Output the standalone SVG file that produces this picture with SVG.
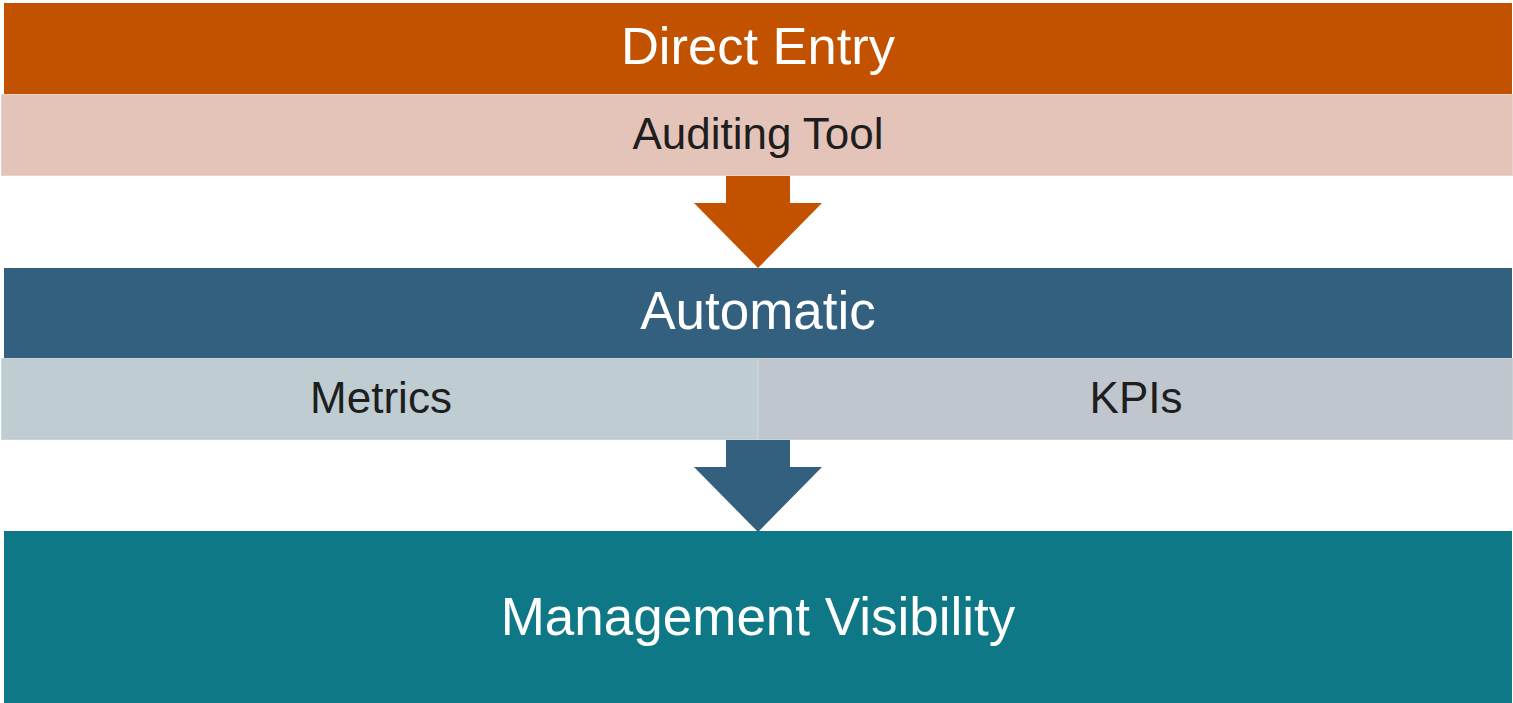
<svg xmlns="http://www.w3.org/2000/svg" width="1513" height="703" viewBox="0 0 1513 703">
<style>
.t{font-family:"Liberation Sans",Arial,sans-serif;text-anchor:middle}
.w{fill:#FFFFFF}
.d{fill:#1E1E1E}
</style>
<rect width="1513" height="703" fill="#FFFFFF"/>
<g id="direct-entry">
<rect x="4" y="3" width="1508" height="91" fill="#C35200"/>
<text class="t w" x="758" y="64" font-size="52.5">Direct Entry</text>
</g>
<g id="auditing-tool">
<rect x="1.5" y="94.5" width="1511" height="81" fill="#E4C3B8" stroke="#EBD3CB" stroke-width="1"/>
<text class="t d" x="758" y="149" font-size="44">Auditing Tool</text>
</g>
<g id="automatic">
<rect x="4" y="268" width="1508" height="90" fill="#33607E"/>
<text class="t w" x="758" y="329" font-size="53">Automatic</text>
</g>
<g id="metrics">
<rect x="1.5" y="358.5" width="756" height="81" fill="#BFCCD2" stroke="#CBD6DB" stroke-width="1"/>
<text class="t d" x="381" y="413" font-size="44">Metrics</text>
</g>
<g id="kpis">
<rect x="758.5" y="358.5" width="754" height="81" fill="#C0C6CE" stroke="#CBD0D7" stroke-width="1"/>
<text class="t d" x="1136" y="413" font-size="44">KPIs</text>
</g>
<g id="management-visibility">
<rect x="4" y="531" width="1508" height="172" fill="#0F7886"/>
<text class="t w" x="758" y="635" font-size="53">Management Visibility</text>
</g>
<g id="connectors">
<polygon points="726,176 790,176 790,203 822,203 758,268 694,203 726,203" fill="#C35200"/>
<polygon points="726,440 790,440 790,467 822,467 758,532 694,467 726,467" fill="#33607E"/>
</g>
</svg>
